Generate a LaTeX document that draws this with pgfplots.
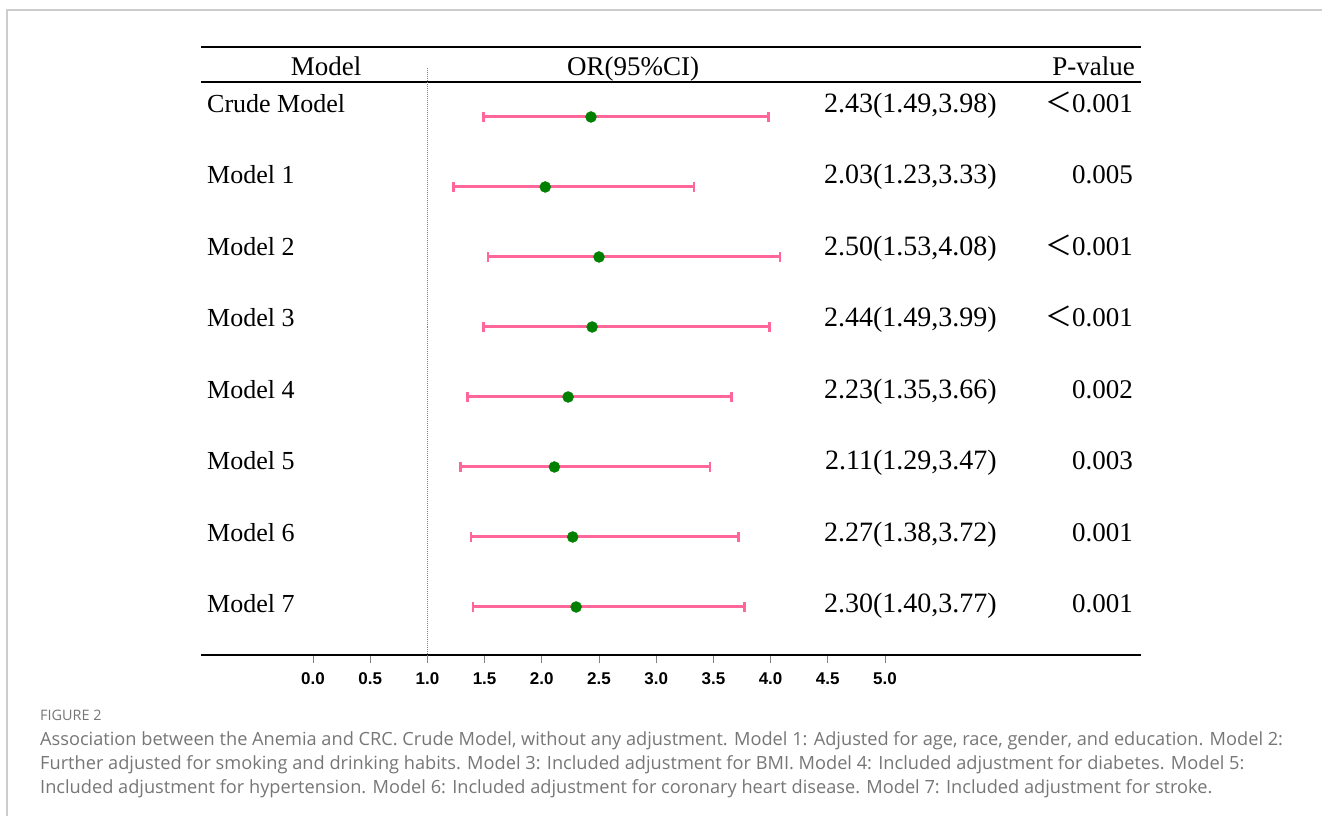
\documentclass[border=0pt]{standalone}
\usepackage{fontspec}
\setmainfont{Liberation Serif}
\setsansfont{Liberation Sans}
\newfontfamily\capfont{Open Sans}
\newfontfamily\cjk{Noto Sans CJK SC}
\usepackage{pgfplots}
\pgfplotsset{compat=1.18}
\usepackage{pgfplotstable}
\definecolor{cipink}{RGB}{255,102,153}
\definecolor{ptgreen}{RGB}{0,128,0}
\definecolor{capgray}{RGB}{118,118,118}
\definecolor{framegray}{RGB}{205,205,205}

\pgfplotstableread{
row or lo hi
8 2.43 1.49 3.98
7 2.03 1.23 3.33
6 2.50 1.53 4.08
5 2.44 1.49 3.99
4 2.23 1.35 3.66
3 2.11 1.29 3.47
2 2.27 1.38 3.72
1 2.30 1.40 3.77
}\ortable

\newcommand{\namefont}{\fontsize{26bp}{30bp}\selectfont}
\newcommand{\orfont}{\fontsize{28bp}{30bp}\selectfont}
\newcommand{\tabfont}{\fontsize{27bp}{30bp}\selectfont}
\newcommand{\lt}{{\cjk ＜}}

\begin{document}
\begin{tikzpicture}[x=1bp,y=1bp]
\path[use as bounding box] (0,0) rectangle (1322,816);
\draw[framegray, line width=1.5bp] (7,0) -- (7,806) -- (1322,806);
\begin{axis}[
  at={(201bp,161bp)}, anchor=south west,
  scale only axis, width=940bp, height=608bp,
  xmin=-0.979, xmax=7.238, ymin=0.314, ymax=9,
  axis x line*=bottom, axis y line=none,
  x axis line style={line width=2bp, black, -},
  xtick={0,0.5,1,1.5,2,2.5,3,3.5,4,4.5,5},
  tick align=outside, major tick length=8bp,
  x tick style={gray, line width=1bp},
  xticklabel style={font=\fontsize{17bp}{20bp}\selectfont\sffamily\bfseries, yshift=-6bp},
  /pgf/number format/.cd, fixed, fixed zerofill, precision=1, assume math mode=true,
  /pgfplots/.cd,
  clip=false,
]
\draw[line width=2bp] (rel axis cs:0,1) -- (rel axis cs:1,1);
\draw[line width=2bp] (axis cs:-0.979,8.5) -- (axis cs:7.238,8.5);
\draw[gray, densely dotted, line width=1bp] (axis cs:1,8.7) -- (axis cs:1,0.314);
\addplot[only marks, mark=*, mark size=5.5bp, ptgreen,
  error bars/.cd, x dir=both, x explicit,
  error mark=-,
  error bar style={cipink, line width=3bp},
  error mark options={rotate=90, cipink, line width=2.5bp, mark size=5bp}]
  table[x=or, y=row,
        x error plus expr=\thisrow{hi}-\thisrow{or},
        x error minus expr=\thisrow{or}-\thisrow{lo}] {\ortable};
\end{axis}

% header
\node[font=\tabfont, anchor=base, inner sep=0pt] at (326,816-76) {Model};
\node[font=\tabfont, anchor=base, inner sep=0pt] at (633,816-76) {OR(95\%CI)};
\node[font=\tabfont, anchor=base east, inner sep=0pt] at (1135,816-76) {P-value};

% rows
\foreach \name/\ci/\p [count=\i from 0] in {
  Crude Model/{2.43(1.49,3.98)}/{\lt0.001},
  Model 1/{2.03(1.23,3.33)}/{0.005},
  Model 2/{2.50(1.53,4.08)}/{\lt0.001},
  Model 3/{2.44(1.49,3.99)}/{\lt0.001},
  Model 4/{2.23(1.35,3.66)}/{0.002},
  Model 5/{2.11(1.29,3.47)}/{0.003},
  Model 6/{2.27(1.38,3.72)}/{0.001},
  Model 7/{2.30(1.40,3.77)}/{0.001}} {
  \pgfmathsetmacro{\by}{816-112.5-71.5*\i}
  \node[font=\namefont, anchor=base west, inner sep=0pt] at (207,\by) {\name};
  \node[font=\orfont, anchor=base east, inner sep=0pt] at (997,\by) {\ci};
  \node[font=\tabfont, anchor=base east, inner sep=0pt] at (1133,\by) {\p};
}

% caption
\begin{scope}[every node/.style={anchor=base west, inner sep=0pt, text=capgray}]
\node[font=\capfont\fontsize{14.4bp}{16bp}\selectfont] at (40,816-720) {FIGURE 2};
\node[font=\capfont\fontsize{18.2bp}{20bp}\selectfont] at (40,816-745) {Association between the Anemia and CRC. Crude Model, without any adjustment. Model 1: Adjusted for age, race, gender, and education. Model 2:};
\node[font=\capfont\fontsize{18.2bp}{20bp}\selectfont] at (40,816-769) {Further adjusted for smoking and drinking habits. Model 3: Included adjustment for BMI. Model 4: Included adjustment for diabetes. Model 5:};
\node[font=\capfont\fontsize{18.2bp}{20bp}\selectfont] at (40,816-793) {Included adjustment for hypertension. Model 6: Included adjustment for coronary heart disease. Model 7: Included adjustment for stroke.};
\end{scope}
\end{tikzpicture}
\end{document}
